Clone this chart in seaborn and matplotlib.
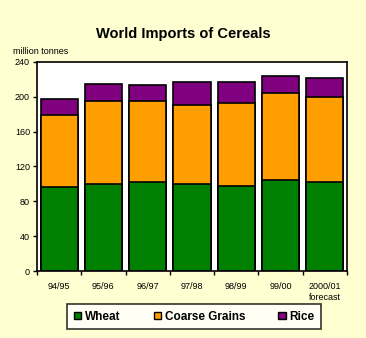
import matplotlib
matplotlib.use("Agg")
import matplotlib.pyplot as plt
import seaborn as sns
import pandas as pd
import numpy as np
from matplotlib.patches import Patch

sns.set_style("white")
plt.rcParams['font.family'] = ['Liberation Sans', 'DejaVu Sans']
plt.rcParams['text.color'] = 'black'
plt.rcParams['xtick.color'] = 'black'
plt.rcParams['ytick.color'] = 'black'

seasons = ["94/95", "95/96", "96/97", "97/98", "98/99", "99/00", "2000/01\nforecast"]
wheat = [96, 100, 102, 100, 98, 104, 102]
coarse = [83, 95, 93, 91, 95, 100, 98]
rice = [18, 20, 18, 26, 24, 20, 22]

c_wheat = "#008000"
c_coarse = "#FF9E00"
c_rice = "#800080"
bg = "#FFFFD2"

df = pd.DataFrame({"season": seasons, "wheat": wheat, "coarse": coarse, "rice": rice})
df["l1"] = df["wheat"]
df["l2"] = df["wheat"] + df["coarse"]
df["l3"] = df["l2"] + df["rice"]

fig = plt.figure(figsize=(3.66, 3.38), dpi=100, facecolor=bg)
ax = fig.add_axes([0.101, 0.198, 0.847, 0.619])
ax.set_facecolor("white")

for col, color in [("l3", c_rice), ("l2", c_coarse), ("l1", c_wheat)]:
    sns.barplot(data=df, x="season", y=col, color=color, ax=ax, width=0.84,
                edgecolor="black", linewidth=1.2, saturation=1)

ax.set_ylim(0, 240)
ax.set_xlim(-0.5, len(seasons) - 0.5)
ax.set_yticks(range(0, 241, 40))
ax.set_xlabel("")
ax.set_ylabel("")
ax.tick_params(axis="y", labelsize=6.5, length=3, width=1, direction="out", left=True, pad=2)
ax.tick_params(axis="x", which="major", length=0, labelsize=6.5, pad=8)
ax.set_xticks(np.arange(-0.5, len(seasons) + 0.5, 1), minor=True)
ax.tick_params(axis="x", which="minor", length=3, width=1, direction="out", bottom=True)
for s in ax.spines.values():
    s.set_linewidth(1.2)
    s.set_color("black")

fig.text(0.5, 0.899, "World Imports of Cereals", ha="center", va="center",
         fontsize=10.5, fontweight="bold")
fig.text(0.035, 0.849, "million tonnes", ha="left", va="center", fontsize=6.5)

handles = [Patch(facecolor=c_wheat, edgecolor="black", label="Wheat"),
           Patch(facecolor=c_coarse, edgecolor="black", label="Coarse Grains"),
           Patch(facecolor=c_rice, edgecolor="black", label="Rice")]
leg = fig.legend(handles=handles, loc="center", bbox_to_anchor=(0.531, 0.0636),
                 ncol=3, frameon=True, fancybox=False, edgecolor="black",
                 prop={"size": 8.5, "weight": "bold"}, handlelength=0.6, handleheight=0.6,
                 handletextpad=0.35, columnspacing=2.8, borderaxespad=0, borderpad=0.55)
leg.get_frame().set_linewidth(1.2)

fig.savefig("out.png", dpi=100, facecolor=bg)
